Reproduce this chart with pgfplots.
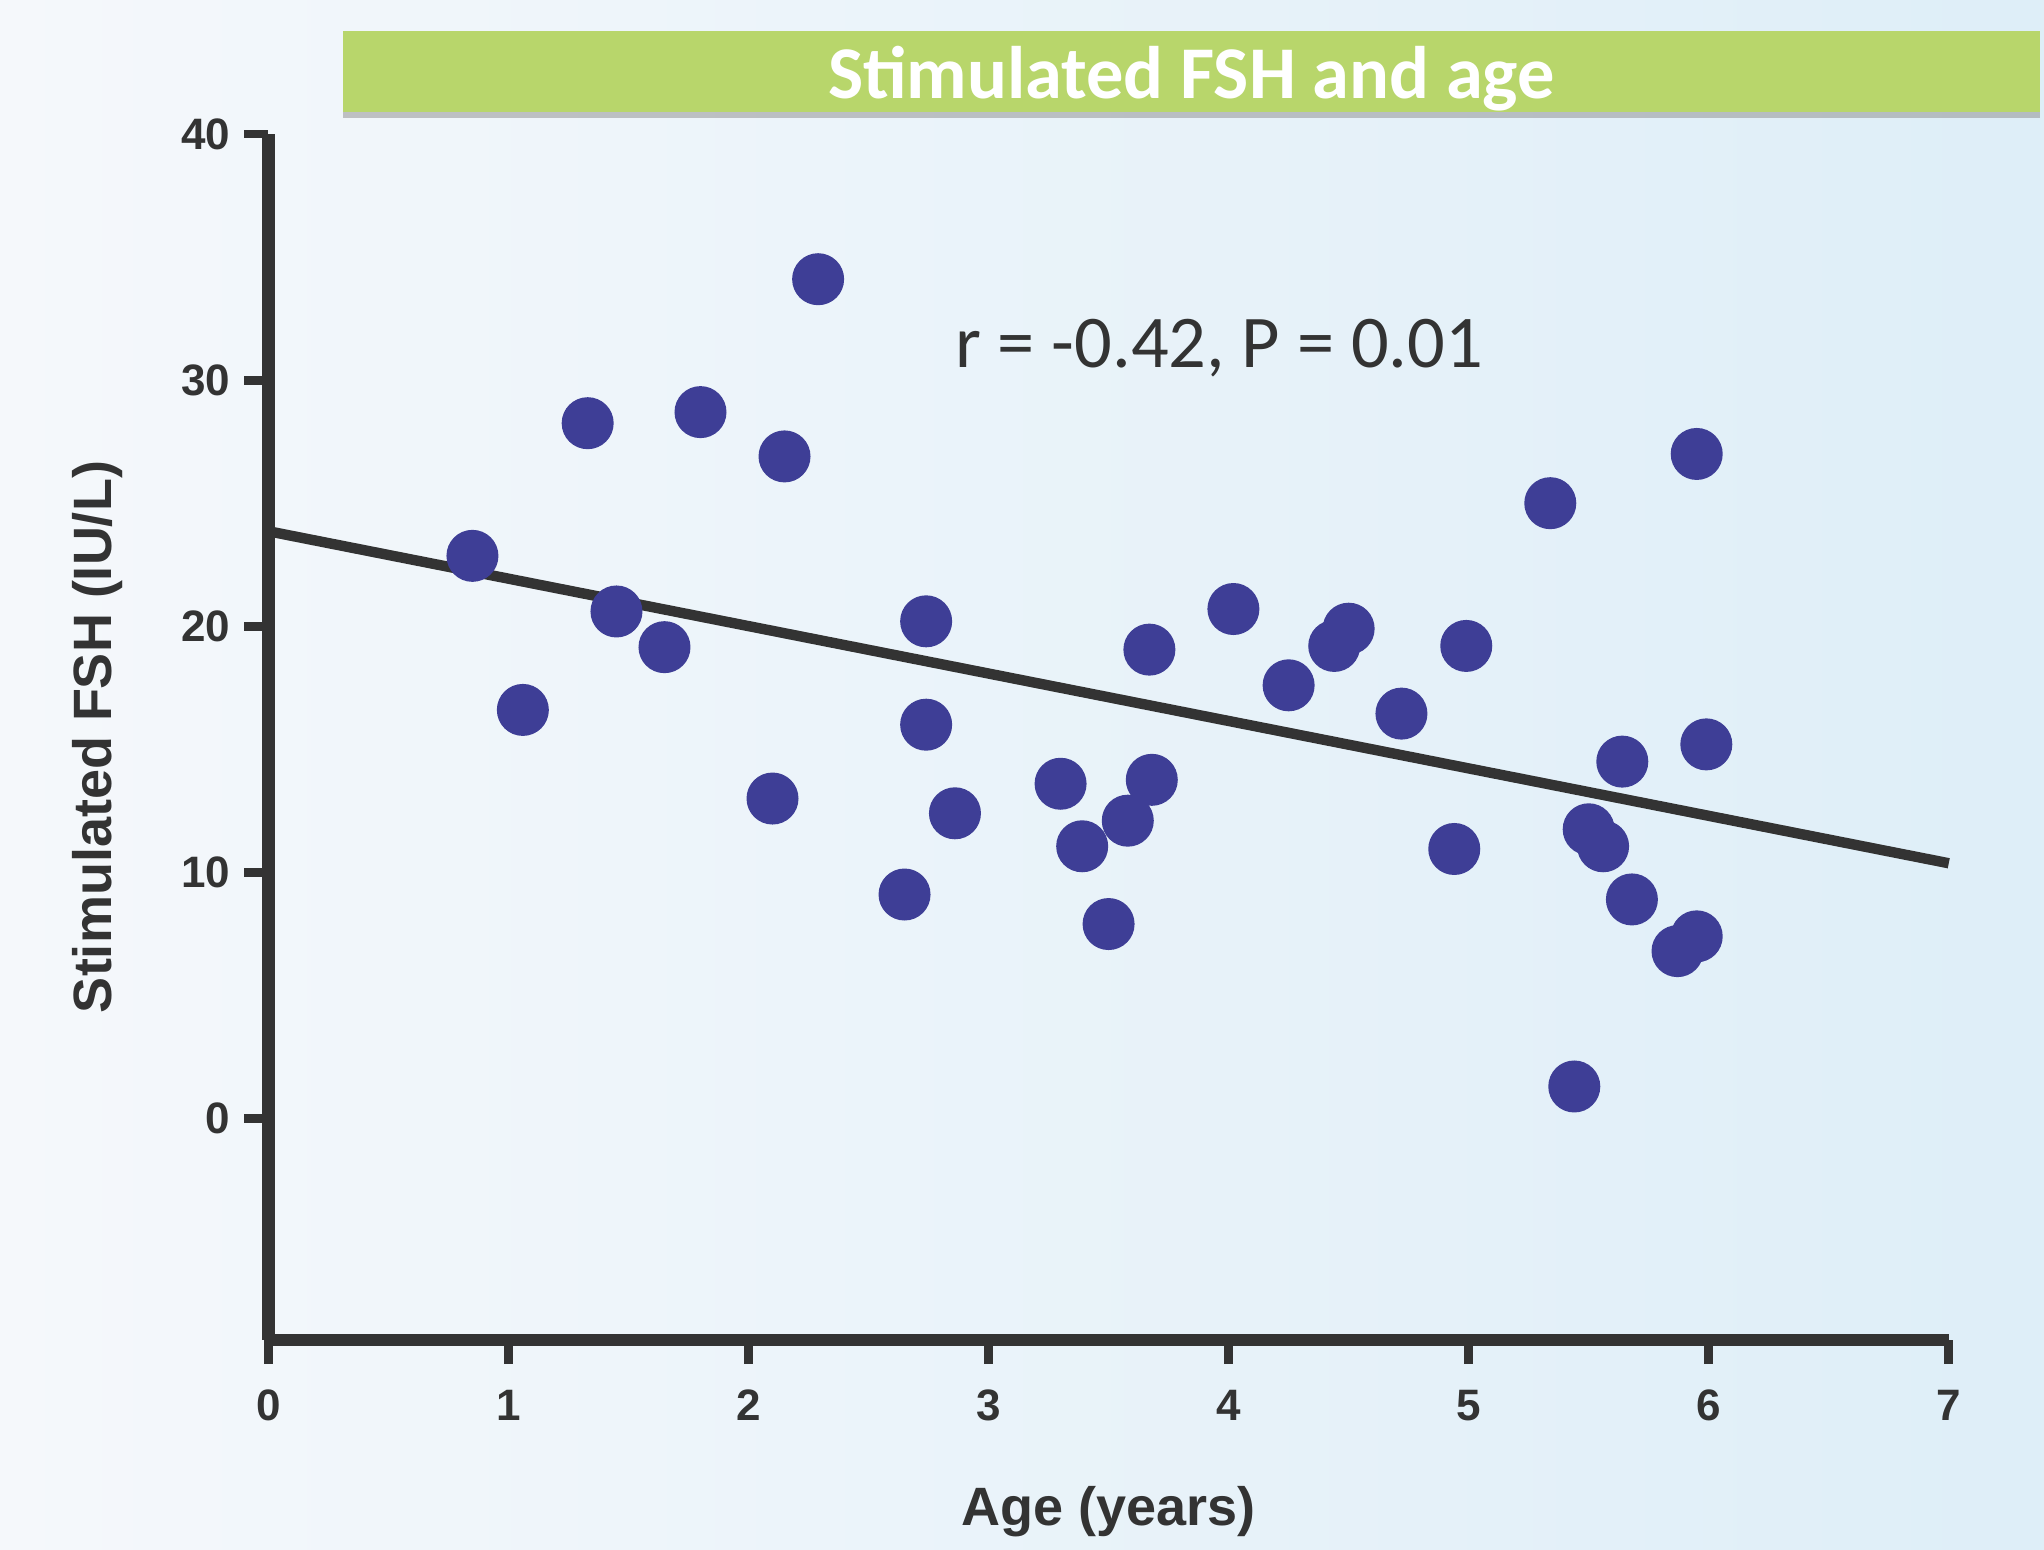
\documentclass[border=0pt]{standalone}
\usepackage{fontspec}
\setmainfont{Liberation Sans}
\newfontfamily\calib{Carlito}
\usepackage{pgfplots}
\pgfplotsset{compat=1.18}
\usetikzlibrary{shadows}
\definecolor{dotblue}{RGB}{62,62,150}
\definecolor{axgray}{RGB}{51,51,51}
\definecolor{titlegreen}{RGB}{184,214,107}
\definecolor{bgleft}{RGB}{245,248,251}
\definecolor{bgright}{RGB}{222,238,248}
\begin{document}
\begin{tikzpicture}
\fill[left color=bgleft, right color=bgright] (-67.1pt,-52.5pt) rectangle (443.9pt,335pt);
\useasboundingbox (-67.1pt,-52.5pt) rectangle (443.9pt,335pt);
\node[fill=titlegreen, minimum width=424.3pt, minimum height=20.25pt, inner sep=0pt,
  drop shadow={shadow xshift=0pt, shadow yshift=-1.5pt, fill=black!45, opacity=0.5}] at (230.75pt,317.1pt) {};
\node[text=white, font=\calib\bfseries\fontsize{18.6}{20}\selectfont, inner sep=0pt] at (230.75pt,315.3pt) {Stimulated FSH and age};
\begin{axis}[
  at={(0,0)}, anchor=south west,
  scale only axis, width=420.1pt, height=301.5pt,
  xmin=0, xmax=7, ymin=-9, ymax=40,
  axis x line*=bottom, axis y line*=left,
  axis line style={line width=3.2pt, color=axgray, -},
  xtick={0,1,...,7}, ytick={0,10,20,30,40},
  tick align=outside, major tick length=6pt,
  tick style={line width=2.2pt, color=axgray},
  /pgf/number format/assume math mode=true,
  tick label style={font=\bfseries\fontsize{11}{13}\selectfont, text=axgray},
  xticklabel style={yshift=-3pt},
  xlabel={Age (years)}, ylabel={Stimulated FSH (IU/L)},
  label style={font=\bfseries\fontsize{13.5}{15}\selectfont, text=axgray},
  xlabel style={at={(axis description cs:0.5,-0.1426)}, anchor=center},
  ylabel style={at={(axis description cs:-0.1014,0.5)}, anchor=center, rotate=0},
  clip=false,
]
\addplot[line width=2.6pt, color=axgray] coordinates {(0,23.86) (7,10.37)};
\addplot[only marks, mark=*, mark size=6.3pt, mark options={fill=dotblue, draw=dotblue}] coordinates {
(0.85,22.86) (1.06,16.6) (1.33,28.25) (1.45,20.6) (1.65,19.15) (1.80,28.7)
(2.15,26.9) (2.10,13.0) (2.29,34.1) (2.65,9.1) (2.74,20.2) (2.74,16.0)
(2.86,12.4) (3.30,13.6) (3.39,11.06) (3.50,7.9) (3.58,12.1) (3.67,19.05)
(3.68,13.76) (4.02,20.7) (4.25,17.6) (4.44,19.2) (4.50,19.9) (4.72,16.45)
(4.94,10.95) (4.99,19.2) (5.34,25.0) (5.44,1.3) (5.50,11.75) (5.56,11.06)
(5.64,14.5) (5.68,8.9) (5.87,6.8) (5.95,7.4) (5.95,27.0) (5.99,15.2)
};
\node[font=\calib\fontsize{18.6}{20}\selectfont, text=axgray] at (axis cs:3.96,31.3) {r = -0.42, P = 0.01};
\end{axis}
\end{tikzpicture}
\end{document}
